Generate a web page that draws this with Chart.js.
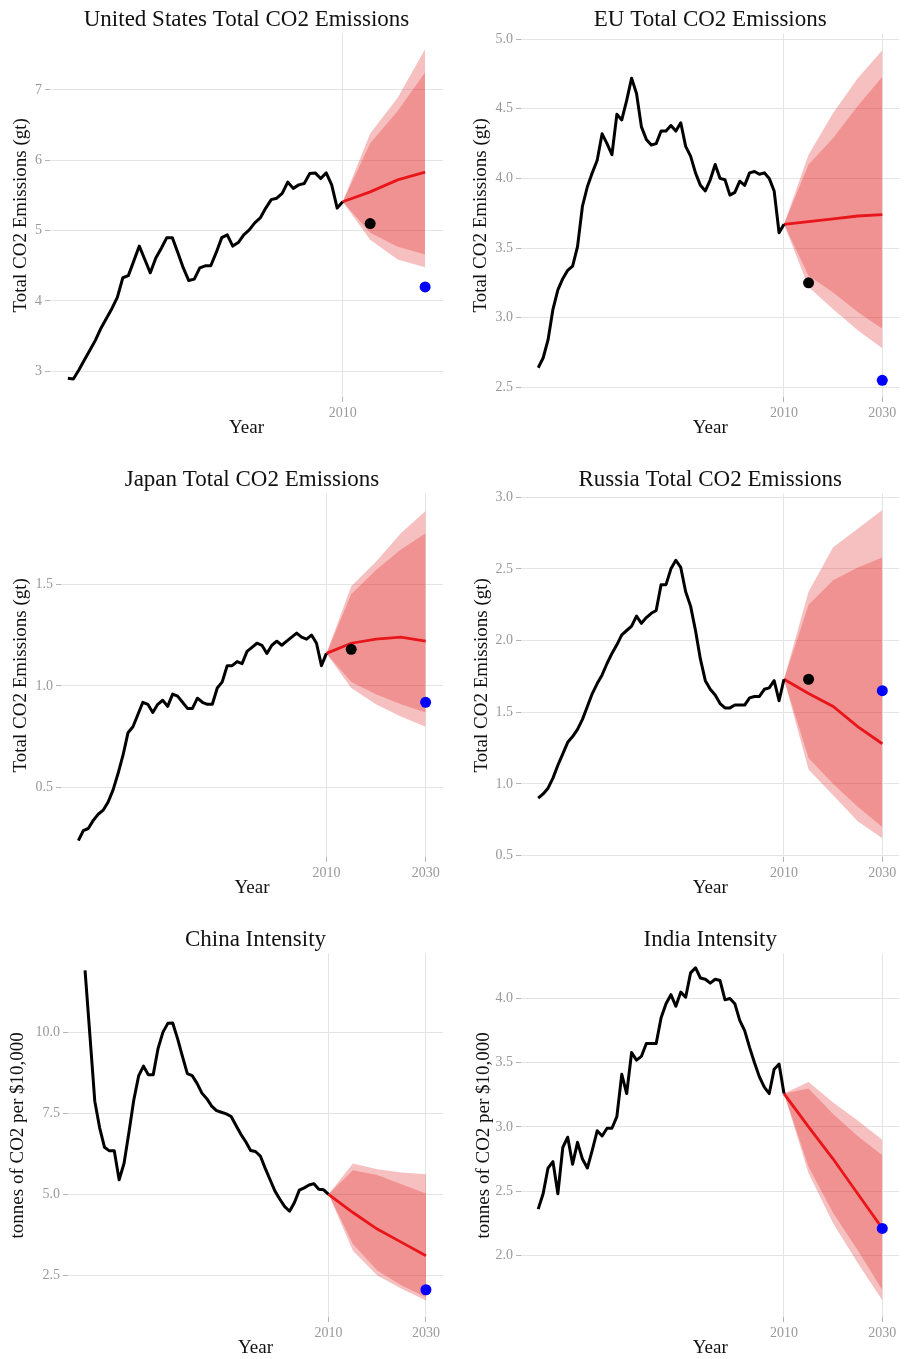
<!DOCTYPE html>
<html>
<head>
<meta charset="utf-8">
<script src="https://cdn.jsdelivr.net/npm/chart.js@4.4.0/dist/chart.umd.min.js"></script>
<style>
  body { margin: 0; background: #fff; width: 905px; height: 1359px; overflow: hidden; position: relative; }
  canvas { position: absolute; }
</style>
</head>
<body>
<canvas id="us" width="452" height="460" style="left:0;top:0"></canvas>
<canvas id="eu" width="453" height="460" style="left:452px;top:0"></canvas>
<canvas id="jp" width="452" height="460" style="left:0;top:460px"></canvas>
<canvas id="ru" width="453" height="460" style="left:452px;top:460px"></canvas>
<canvas id="cn" width="452" height="439" style="left:0;top:920px"></canvas>
<canvas id="in" width="453" height="439" style="left:452px;top:920px"></canvas>
<script>
// ---- data ----
const histYears = [1960, 1961, 1962, 1963, 1964, 1965, 1966, 1967, 1968, 1969,
  1970, 1971, 1972, 1973, 1974, 1975, 1976, 1977, 1978, 1979,
  1980, 1981, 1982, 1983, 1984, 1985, 1986, 1987, 1988, 1989,
  1990, 1991, 1992, 1993, 1994, 1995, 1996, 1997, 1998, 1999,
  2000, 2001, 2002, 2003, 2004, 2005, 2006, 2007, 2008, 2009, 2010]
const fcYears = [2010, 2015, 2020, 2025, 2030]
const usFcYears = [2010, 2015, 2020, 2025]
const actualYears = [2015]
const targetYears = [2030]
const usTargetYears = [2025]

const xTicks = [2010, 2030]
const usXTicks = [2010]

// United States
const usHist = [2.90, 2.89, 3.02, 3.16, 3.30, 3.44, 3.61, 3.75, 3.89, 4.05,
  4.33, 4.36, 4.57, 4.78, 4.59, 4.40, 4.61, 4.75, 4.90, 4.90,
  4.69, 4.47, 4.29, 4.31, 4.47, 4.50, 4.50, 4.69, 4.90, 4.94,
  4.78, 4.83, 4.94, 5.01, 5.11, 5.18, 5.32, 5.44, 5.46, 5.53,
  5.69, 5.60, 5.65, 5.67, 5.81, 5.82, 5.74, 5.82, 5.65, 5.32, 5.41]
const usFc = [5.41, 5.55, 5.72, 5.83]
const usOuterHi = [5.41, 6.38, 6.89, 7.58]
const usInnerHi = [5.41, 6.24, 6.70, 7.25]
const usInnerLo = [5.41, 4.97, 4.77, 4.66]
const usOuterLo = [5.41, 4.87, 4.59, 4.48]
const usActual = [5.10]
const usTarget = [4.20]
const usYTicks = [3, 4, 5, 6, 7]

// EU
const euHist = [2.64, 2.71, 2.84, 3.06, 3.20, 3.28, 3.34, 3.37, 3.51, 3.80,
  3.94, 4.04, 4.13, 4.32, 4.25, 4.17, 4.46, 4.42, 4.56, 4.72,
  4.61, 4.37, 4.28, 4.24, 4.25, 4.34, 4.34, 4.38, 4.34, 4.40,
  4.23, 4.16, 4.04, 3.95, 3.91, 3.99, 4.10, 4.00, 3.99, 3.88,
  3.90, 3.98, 3.95, 4.04, 4.05, 4.03, 4.04, 4.00, 3.91, 3.61, 3.67]
const euFc = [3.67, 3.69, 3.71, 3.73, 3.74]
const euOuterHi = [3.67, 4.17, 4.47, 4.72, 4.92]
const euInnerHi = [3.67, 4.10, 4.29, 4.52, 4.73]
const euInnerLo = [3.67, 3.30, 3.18, 3.04, 2.92]
const euOuterLo = [3.67, 3.22, 3.06, 2.91, 2.78]
const euActual = [3.25]
const euTarget = [2.55]
const euYTicks = [2.5, 3.0, 3.5, 4.0, 4.5, 5.0]

// Japan
const jpHist = [0.24, 0.29, 0.30, 0.34, 0.37, 0.39, 0.43, 0.49, 0.57, 0.66,
  0.77, 0.80, 0.86, 0.92, 0.91, 0.87, 0.91, 0.93, 0.90, 0.96,
  0.95, 0.92, 0.89, 0.89, 0.94, 0.92, 0.91, 0.91, 0.99, 1.02,
  1.10, 1.10, 1.12, 1.11, 1.17, 1.19, 1.21, 1.20, 1.16, 1.20,
  1.22, 1.20, 1.22, 1.24, 1.26, 1.24, 1.23, 1.25, 1.21, 1.10, 1.16]
const jpFc = [1.16, 1.21, 1.23, 1.24, 1.22]
const jpOuterHi = [1.16, 1.49, 1.61, 1.75, 1.86]
const jpInnerHi = [1.16, 1.45, 1.57, 1.67, 1.75]
const jpInnerLo = [1.16, 1.02, 0.96, 0.91, 0.87]
const jpOuterLo = [1.16, 0.99, 0.91, 0.85, 0.80]
const jpActual = [1.18]
const jpTarget = [0.92]
const jpYTicks = [0.5, 1.0, 1.5]

// Russia
const ruHist = [0.90, 0.93, 0.97, 1.04, 1.13, 1.21, 1.29, 1.33, 1.38, 1.45,
  1.54, 1.63, 1.70, 1.76, 1.84, 1.91, 1.97, 2.04, 2.07, 2.10,
  2.17, 2.12, 2.16, 2.19, 2.21, 2.39, 2.39, 2.50, 2.56, 2.51,
  2.34, 2.24, 2.07, 1.87, 1.72, 1.66, 1.62, 1.56, 1.53, 1.53,
  1.55, 1.55, 1.55, 1.60, 1.61, 1.61, 1.66, 1.67, 1.72, 1.58, 1.73]
const ruFc = [1.73, 1.63, 1.54, 1.40, 1.28]
const ruOuterHi = [1.73, 2.34, 2.65, 2.78, 2.91]
const ruInnerHi = [1.73, 2.25, 2.42, 2.51, 2.58]
const ruInnerLo = [1.73, 1.18, 1.00, 0.84, 0.70]
const ruOuterLo = [1.73, 1.10, 0.92, 0.74, 0.62]
const ruActual = [1.73]
const ruTarget = [1.65]
const ruYTicks = [0.5, 1.0, 1.5, 2.0, 2.5, 3.0]

// China (intensity)
const cnHist = [11.9, 9.9, 7.87, 7.05, 6.45, 6.34, 6.34, 5.45, 5.95, 6.9,
  7.9, 8.65, 8.95, 8.69, 8.69, 9.5, 10.0, 10.27, 10.28, 9.8,
  9.25, 8.72, 8.66, 8.42, 8.12, 7.95, 7.72, 7.58, 7.53, 7.48,
  7.40, 7.12, 6.85, 6.62, 6.35, 6.32, 6.18, 5.80, 5.45, 5.10,
  4.85, 4.62, 4.48, 4.75, 5.13, 5.20, 5.29, 5.33, 5.16, 5.14, 5.0]
const cnFc = [5.0, 4.44, 3.93, 3.52, 3.11]
const cnOuterHi = [5.0, 5.95, 5.77, 5.67, 5.62]
const cnInnerHi = [5.0, 5.74, 5.60, 5.31, 5.03]
const cnInnerLo = [5.0, 3.47, 2.65, 2.19, 1.83]
const cnOuterLo = [5.0, 3.26, 2.50, 2.09, 1.73]
const cnTarget = [2.06]
const cnYTicks = [2.5, 5.0, 7.5, 10.0]

// India (intensity)
const inHist = [2.36, 2.48, 2.68, 2.73, 2.48, 2.84, 2.92, 2.71, 2.88, 2.75,
  2.68, 2.82, 2.97, 2.93, 2.99, 2.99, 3.08, 3.41, 3.26, 3.58,
  3.52, 3.55, 3.65, 3.65, 3.65, 3.85, 3.96, 4.03, 3.94, 4.05,
  4.01, 4.20, 4.24, 4.16, 4.15, 4.12, 4.15, 4.14, 3.99, 4.00,
  3.96, 3.83, 3.75, 3.62, 3.50, 3.39, 3.31, 3.26, 3.45, 3.49, 3.26]
const inFc = [3.26, 3.00, 2.75, 2.48, 2.21]
const inOuterHi = [3.26, 3.35, 3.19, 3.05, 2.90]
const inInnerHi = [3.26, 3.30, 3.10, 2.93, 2.78]
const inInnerLo = [3.26, 2.69, 2.33, 2.04, 1.73]
const inOuterLo = [3.26, 2.64, 2.25, 1.94, 1.65]
const inTarget = [2.21]
const inYTicks = [2.0, 2.5, 3.0, 3.5, 4.0]

// ---- drawing ----
Chart.defaults.font.family = '"Liberation Serif", "DejaVu Serif", serif'
Chart.defaults.color = '#999999'

const bandColor = 'rgba(225, 30, 30, 0.28)'
const gridColor = '#e4e4e4'

function pts(xs, ys) {
  return xs.map((x, i) => ({ x: x, y: ys[i] }))
}

function drawPanel(id, p) {
  let datasets = []
  datasets.push({ data: pts(p.targetYears, p.target), showLine: false, pointRadius: 5.5,
    pointBackgroundColor: '#0000ff', pointBorderWidth: 0, order: 0 })
  if (p.actual) {
    datasets.push({ data: pts(actualYears, p.actual), showLine: false, pointRadius: 5.5,
      pointBackgroundColor: '#000000', pointBorderWidth: 0, order: 0 })
  }
  datasets.push({ data: pts(histYears, p.hist), borderColor: '#000000', borderWidth: 3,
    pointRadius: 0, borderJoinStyle: 'round', order: 1 })
  datasets.push({ data: pts(p.fcYears, p.fc), borderColor: '#e8161b', borderWidth: 2.8,
    pointRadius: 0, order: 1 })
  datasets.push({ data: pts(p.fcYears, p.outerLo), borderWidth: 0, pointRadius: 0, order: 3 })
  datasets.push({ data: pts(p.fcYears, p.outerHi), borderWidth: 0, pointRadius: 0, order: 3,
    fill: '-1', backgroundColor: bandColor })
  datasets.push({ data: pts(p.fcYears, p.innerLo), borderWidth: 0, pointRadius: 0, order: 2 })
  datasets.push({ data: pts(p.fcYears, p.innerHi), borderWidth: 0, pointRadius: 0, order: 2,
    fill: '-1', backgroundColor: bandColor })

  new Chart(document.getElementById(id), {
    type: 'line',
    data: { datasets: datasets },
    options: {
      responsive: false,
      animation: false,
      events: [],
      devicePixelRatio: 1,
      layout: { padding: { top: 0, left: 0, right: p.padRight, bottom: p.padBottom } },
      plugins: {
        legend: { display: false },
        tooltip: { enabled: false },
        title: {
          display: true,
          text: p.title,
          fullSize: false,
          color: '#111111',
          font: { size: 23, weight: 'normal' },
          padding: { top: 6, bottom: 0 }
        }
      },
      scales: {
        x: {
          type: 'linear',
          min: p.xMin,
          max: p.xMax,
          afterBuildTicks: (axis) => { axis.ticks = p.xTicks.map(v => ({ value: v })) },
          afterFit: (axis) => { axis.height = 42 },
          ticks: { font: { size: 14 }, color: '#999999', padding: 3, maxRotation: 0,
            callback: v => String(v) },
          grid: { color: gridColor, tickColor: '#b5b5b5', tickLength: 5 },
          border: { display: false },
          title: { display: true, text: 'Year', color: '#111111', font: { size: 19 },
            padding: { top: 0, bottom: 0 } }
        },
        y: {
          min: p.yMin,
          max: p.yMax,
          afterBuildTicks: (axis) => { axis.ticks = p.yTicks.map(v => ({ value: v })) },
          afterFit: (axis) => { axis.width = p.yWidth },
          ticks: { font: { size: 14 }, color: '#999999', padding: 3,
            callback: v => v.toFixed(p.dec) },
          grid: { color: gridColor, tickColor: '#b5b5b5', tickLength: 5 },
          border: { display: false },
          title: { display: true, text: p.yTitle, color: '#111111', font: { size: 19 },
            padding: { top: p.yTitlePad, bottom: 0 } }
        }
      }
    }
  })
}

drawPanel('us', {
  title: 'United States Total CO2 Emissions', yTitle: 'Total CO2 Emissions (gt)',
  hist: usHist, fcYears: usFcYears, fc: usFc, outerHi: usOuterHi, innerHi: usInnerHi,
  innerLo: usInnerLo, outerLo: usOuterLo, actual: usActual, targetYears: usTargetYears, target: usTarget,
  yTicks: usYTicks, xTicks: usXTicks, dec: 0,
  xMin: 1956.75, xMax: 2028.25, yMin: 2.635, yMax: 7.8,
  yWidth: 50, yTitlePad: 10, padRight: 9, padBottom: 21
})

drawPanel('eu', {
  title: 'EU Total CO2 Emissions', yTitle: 'Total CO2 Emissions (gt)',
  hist: euHist, fcYears: fcYears, fc: euFc, outerHi: euOuterHi, innerHi: euInnerHi,
  innerLo: euInnerLo, outerLo: euOuterLo, actual: euActual, targetYears: targetYears, target: euTarget,
  yTicks: euYTicks, xTicks: xTicks, dec: 1,
  xMin: 1956.5, xMax: 2033.5, yMin: 2.43, yMax: 5.04,
  yWidth: 69, yTitlePad: 18, padRight: 3, padBottom: 21
})

drawPanel('jp', {
  title: 'Japan Total CO2 Emissions', yTitle: 'Total CO2 Emissions (gt)',
  hist: jpHist, fcYears: fcYears, fc: jpFc, outerHi: jpOuterHi, innerHi: jpInnerHi,
  innerLo: jpInnerLo, outerLo: jpOuterLo, actual: jpActual, targetYears: targetYears, target: jpTarget,
  yTicks: jpYTicks, xTicks: xTicks, dec: 1,
  xMin: 1956.5, xMax: 2033.5, yMin: 0.16, yMax: 1.945,
  yWidth: 61, yTitlePad: 10, padRight: 9, padBottom: 21
})

drawPanel('ru', {
  title: 'Russia Total CO2 Emissions', yTitle: 'Total CO2 Emissions (gt)',
  hist: ruHist, fcYears: fcYears, fc: ruFc, outerHi: ruOuterHi, innerHi: ruInnerHi,
  innerLo: ruInnerLo, outerLo: ruOuterLo, actual: ruActual, targetYears: targetYears, target: ruTarget,
  yTicks: ruYTicks, xTicks: xTicks, dec: 1,
  xMin: 1956.5, xMax: 2033.5, yMin: 0.49, yMax: 3.025,
  yWidth: 69, yTitlePad: 19, padRight: 3, padBottom: 21
})

drawPanel('cn', {
  title: 'China Intensity', yTitle: 'tonnes of CO2 per $10,000',
  hist: cnHist, fcYears: fcYears, fc: cnFc, outerHi: cnOuterHi, innerHi: cnInnerHi,
  innerLo: cnInnerLo, outerLo: cnOuterLo, actual: null, targetYears: targetYears, target: cnTarget,
  yTicks: cnYTicks, xTicks: xTicks, dec: 1,
  xMin: 1956.5, xMax: 2033.5, yMin: 1.22, yMax: 12.42,
  yWidth: 68, yTitlePad: 7, padRight: 9, padBottom: 0
})

drawPanel('in', {
  title: 'India Intensity', yTitle: 'tonnes of CO2 per $10,000',
  hist: inHist, fcYears: fcYears, fc: inFc, outerHi: inOuterHi, innerHi: inInnerHi,
  innerLo: inInnerLo, outerLo: inOuterLo, actual: null, targetYears: targetYears, target: inTarget,
  yTicks: inYTicks, xTicks: xTicks, dec: 1,
  xMin: 1956.5, xMax: 2033.5, yMin: 1.52, yMax: 4.35,
  yWidth: 69, yTitlePad: 21, padRight: 3, padBottom: 0
})
</script>
</body>
</html>
